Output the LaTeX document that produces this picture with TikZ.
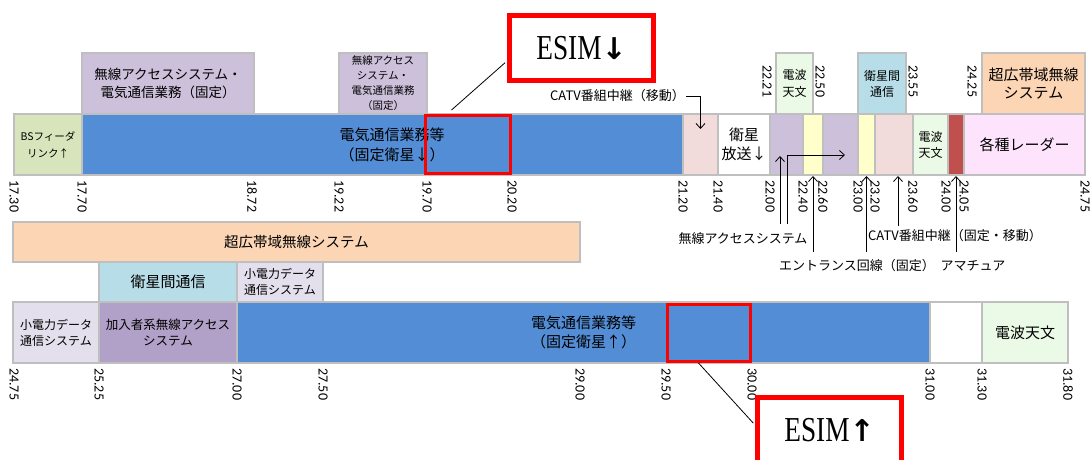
\documentclass[tikz,border=0pt]{standalone}
\usepackage{fontspec}
\usepackage{graphicx}
\setmainfont{Noto Sans CJK JP}
\newfontfamily\numfont{Carlito}
\newfontfamily\esimfont{Liberation Serif}
\newfontfamily\arrfont{DejaVu Sans}
\usetikzlibrary{arrows.meta}
\definecolor{gborder}{HTML}{BFBFBF}
\definecolor{cblue}{HTML}{538DD5}
\definecolor{clav}{HTML}{CCC0DA}
\definecolor{cbs}{HTML}{D8E4BC}
\definecolor{cpink}{HTML}{F2DCDB}
\definecolor{cyel}{HTML}{FFFFCC}
\definecolor{cgrn}{HTML}{EBFAE6}
\definecolor{cred}{HTML}{C0504D}
\definecolor{cmag}{HTML}{FDE4FC}
\definecolor{csky}{HTML}{B7DEE8}
\definecolor{cpeach}{HTML}{FCD5B4}
\definecolor{clil}{HTML}{E4DFEC}
\definecolor{cpur}{HTML}{B1A0C7}
\tikzset{
  box/.style={draw=gborder, line width=2pt, inner sep=0pt, align=center, text=black},
  tick/.style={font=\numfont\fontsize{14}{14}\selectfont, rotate=-90, anchor=west, inner sep=0pt},
  lbl/.style={font=\fontsize{13}{16}\selectfont, inner sep=1pt},
  arr/.style={draw=black, line width=0.8pt, -{Straight Barb[length=5pt,width=9pt]}},
  redr/.style={draw=red, line width=3pt, inner sep=0pt},
  esim/.style={draw=red, line width=5pt, fill=white, minimum width=144pt, minimum height=65pt, inner sep=0pt},
  thinline/.style={draw=black, line width=0.8pt},
}
\newcommand\bandbox[8]{%
  \node[box, fill=#6, minimum width={#3pt-#2pt}, minimum height={#5pt-#4pt}, font={#7}] (#1) at ({(#2+#3)/2},{(#4+#5)/2}) {#8};}
\begin{document}
\begin{tikzpicture}[x=1pt,y=-1pt]
\useasboundingbox (0,0) rectangle (1091,459);
% ---------- top band ----------
\bandbox{bs}{14}{82}{114}{175}{cbs}{\fontsize{10.5}{17}\selectfont}{BSフィーダ\\リンク↑}
\bandbox{blue1}{82}{683}{114}{175}{cblue}{\fontsize{15}{20}\selectfont}{}
\node[font=\fontsize{15}{20}\selectfont, align=center, inner sep=0pt] (blue1txt) at (392,145) {電気通信業務等\\（固定衛星↓）};
\bandbox{pkA}{683}{718}{114}{175}{cpink}{\fontsize{12}{16}\selectfont}{}
\bandbox{wh}{718}{770}{114}{175}{white}{\fontsize{15}{19}\selectfont}{衛星\\放送↓}
\bandbox{pA1}{770}{803}{114}{175}{clav}{\fontsize{12}{16}\selectfont}{}
\bandbox{Y1}{803}{823}{114}{175}{cyel}{\fontsize{12}{16}\selectfont}{}
\bandbox{pA2}{823}{858}{114}{175}{clav}{\fontsize{12}{16}\selectfont}{}
\bandbox{Y2}{858}{875}{114}{175}{cyel}{\fontsize{12}{16}\selectfont}{}
\bandbox{P2}{875}{913}{114}{175}{cpink}{\fontsize{12}{16}\selectfont}{}
\bandbox{G1}{913}{948}{114}{175}{cgrn}{\fontsize{12}{16}\selectfont}{電波\\天文}
\bandbox{R}{948}{964}{114}{175}{cred}{\fontsize{12}{16}\selectfont}{}
\bandbox{rad}{964}{1085}{114}{175}{cmag}{\fontsize{15}{18}\selectfont}{各種レーダー}
% boxes above top band
\bandbox{T1}{82}{254}{53}{114}{clav}{\fontsize{13.5}{18}\selectfont}{無線アクセスシステム・\\電気通信業務（固定）}
\bandbox{T2}{339}{427}{53}{114}{clav}{\fontsize{10.5}{15}\selectfont}{無線アクセス\\システム・\\電気通信業務\\（固定）}
\bandbox{T3}{776}{813}{53}{114}{cgrn}{\fontsize{12}{17}\selectfont}{電波\\天文}
\bandbox{T4}{858}{906}{53}{114}{csky}{\fontsize{12}{16}\selectfont}{衛星間\\通信}
\bandbox{T5}{982}{1085}{53}{114}{cpeach}{\fontsize{15}{18}\selectfont}{超広帯域無線\\システム}
% ticks top
\foreach \x/\t [count=\i] in {14/17.30, 82/17.70, 252/18.72, 339/19.22, 427/19.70, 512/20.20, 683/21.20, 718/21.40, 770/22.00, 803/22.40, 823/22.60, 858/23.00, 875/23.20, 913/23.60, 946/24.00, 964/24.05, 1085/24.75}
  \node[tick] (ta\i) at (\x,180) {\t};
\foreach \x/\t [count=\i] in {767/22.21, 820/22.50, 913/23.55, 972/24.25}
  \node[tick] (tu\i) at (\x,65) {\t};
% ---------- bottom section ----------
\bandbox{U1}{13}{580}{222}{262}{cpeach}{\fontsize{14.5}{18}\selectfont}{超広帯域無線システム}
\bandbox{S1}{99}{237}{262}{302}{csky}{\fontsize{15}{18}\selectfont}{衛星間通信}
\bandbox{S2}{237}{323}{262}{302}{clil}{\fontsize{12}{16}\selectfont}{小電力データ\\通信システム}
\bandbox{B1}{13}{99}{302}{363}{clil}{\fontsize{12}{16}\selectfont}{小電力データ\\通信システム}
\bandbox{B2}{99}{237}{302}{363}{cpur}{\fontsize{12.5}{16}\selectfont}{加入者系無線アクセス\\システム}
\bandbox{B3}{237}{930}{302}{363}{cblue}{\fontsize{15}{19}\selectfont}{電気通信業務等\\（固定衛星↑）}
\bandbox{B4}{930}{982}{302}{363}{white}{\fontsize{12}{16}\selectfont}{}
\bandbox{B5}{982}{1068}{302}{363}{cgrn}{\fontsize{15}{18}\selectfont}{電波天文}
\foreach \x/\t [count=\i] in {14/24.75, 99/25.25, 237/27.00, 323/27.50, 580/29.00, 666/29.50, 752/30.00, 930/31.00, 982/31.30, 1068/31.80}
  \node[tick] (tb\i) at (\x,368) {\t};
% ---------- labels and arrows ----------
\node[lbl, anchor=east] (catvm) at (686,96) {CATV番組中継（移動）};
\draw[arr] (catvm.east) -| ([yshift=-16pt]pkA.north);
\node[lbl] (wacc) at (743,239) {無線アクセスシステム};
\coordinate (wa1) at (780,224);
\coordinate (wt1) at (780,156);
\coordinate (wa2) at (787,224);
\coordinate (wt2) at (845,155);
\draw[arr] (wa1) -- (wt1);
\draw[arr] (wa2) |- (wt2);
\node[lbl] (entr) at (857,266) {エントランス回線（固定）};
\draw[arr] ([yshift=-76pt]Y1.south) -- (Y1.south);
\draw[arr] ([yshift=-76pt]Y2.south) -- (Y2.south);
\node[lbl] (catvf) at (955,236) {CATV番組中継（固定・移動）};
\draw[arr] ([xshift=4pt,yshift=-50pt]P2.south) -- ([xshift=4pt]P2.south);
\node[lbl] (ama) at (973,266) {アマチュア};
\draw[arr] ([yshift=-76pt]R.south) -- (R.south);
% ---------- ESIM ----------
\node[redr, minimum width=85pt, minimum height=58pt] (rr1) at (468,144.5) {};
\node[redr, minimum width=83pt, minimum height=57pt] (rr2) at (709,333) {};
\node[esim] (esimdn) at (581.5,48) {\esimfont\fontsize{35}{35}\selectfont\scalebox{0.78}[1]{ESIM}\arrfont\bfseries\fontsize{30}{30}\selectfont ↓};
\node[esim] (esimup) at (829.5,430) {\esimfont\fontsize{35}{35}\selectfont\scalebox{0.78}[1]{ESIM}\arrfont\bfseries\fontsize{30}{30}\selectfont ↑};
\draw[thinline, shorten >=2.5pt] ([xshift=27.5pt,yshift=4pt]rr1.north west) -- ([yshift=-13pt]esimdn.west);
\draw[thinline, shorten >=2.5pt] ([xshift=32.5pt]rr2.south west) -- ([yshift=5pt]esimup.west);
\end{tikzpicture}
\end{document}
